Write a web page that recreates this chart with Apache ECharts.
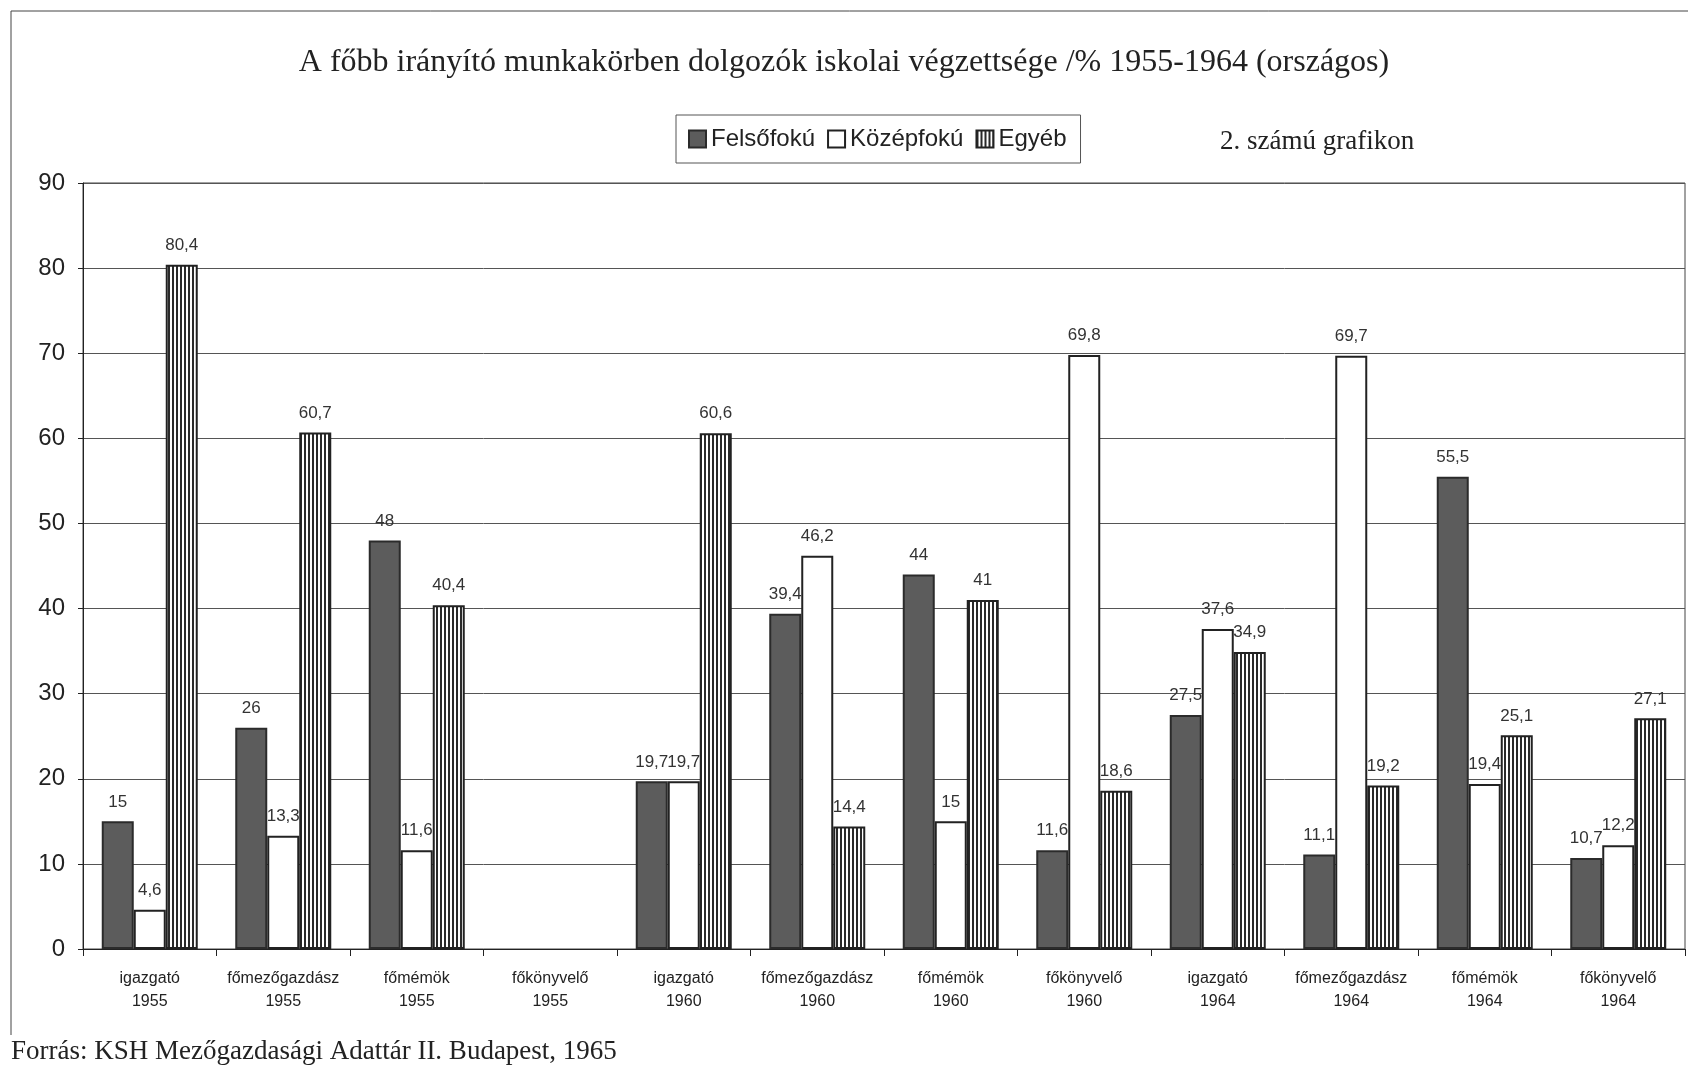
<!DOCTYPE html>
<html>
<head>
<meta charset="utf-8">
<script src="https://cdn.jsdelivr.net/npm/echarts@6/dist/echarts.min.js"></script>
<style>
  html, body { margin: 0; padding: 0; background: #fff; }
  #main { width: 1688px; height: 1068px; }
</style>
</head>
<body>
<div id="main"></div>
<script>
// kategóriák (munkakör + év)
var categories = [
    "igazgató\n1955", "főmezőgazdász\n1955", "főmémök\n1955", "főkönyvelő\n1955",
    "igazgató\n1960", "főmezőgazdász\n1960", "főmémök\n1960", "főkönyvelő\n1960",
    "igazgató\n1964", "főmezőgazdász\n1964", "főmémök\n1964", "főkönyvelő\n1964"
];
var felsofoku = [15, 26, 48, null, 19.7, 39.4, 44, 11.6, 27.5, 11.1, 55.5, 10.7];
var kozepfoku = [4.6, 13.3, 11.6, null, 19.7, 46.2, 15, 69.8, 37.6, 69.7, 19.4, 12.2];
var egyeb = [80.4, 60.7, 40.4, null, 60.6, 14.4, 41, 18.6, 34.9, 19.2, 25.1, 27.1];
var yTicks = { min: 0, max: 90, interval: 10 };

var SANS = '"Liberation Sans", Arial, sans-serif';
var SERIF = '"Liberation Serif", "Times New Roman", serif';

// függőleges csíkos minta az "Egyéb" oszlopokhoz
var stripe = document.createElement('canvas');
stripe.width = 4;
stripe.height = 4;
var ctx = stripe.getContext('2d');
ctx.fillStyle = '#ffffff';
ctx.fillRect(0, 0, 4, 4);
ctx.fillStyle = '#2a2a2a';
ctx.fillRect(0, 0, 2, 4);

var chart = echarts.init(document.getElementById('main'));

var labelOpt = {
    show: true,
    position: 'top',
    distance: 11,
    fontFamily: SANS,
    fontSize: 17,
    color: '#333',
    formatter: function (p) {
        return String(p.value).replace('.', ',');
    }
};

chart.setOption({
    animation: false,
    backgroundColor: '#fff',
    title: {
        text: 'A főbb irányító munkakörben dolgozók iskolai végzettsége /% 1955-1964 (országos)',
        left: 'center',
        top: 42,
        textStyle: { fontFamily: SERIF, fontWeight: 'normal', fontSize: 32, color: '#222' }
    },
    legend: {
        left: 676,
        top: 115,
        orient: 'horizontal',
        itemWidth: 17,
        itemHeight: 17,
        itemGap: 12,
        padding: [12, 14, 12, 12],
        borderColor: '#555',
        borderWidth: 1,
        icon: 'rect',
        textStyle: { fontFamily: SANS, fontSize: 24, color: '#222' },
        data: ['Felsőfokú', 'Középfokú', 'Egyéb']
    },
    grid: {
        left: 83,
        right: 3,
        top: 183,
        bottom: 119,
        show: true,
        borderColor: '#444',
        borderWidth: 1
    },
    xAxis: {
        type: 'category',
        data: categories,
        axisLine: { lineStyle: { color: '#222', width: 1 } },
        axisTick: { show: true, length: 7, lineStyle: { color: '#222' } },
        axisLabel: {
            interval: 0,
            margin: 18,
            fontFamily: SANS,
            fontSize: 16,
            lineHeight: 23,
            color: '#222'
        }
    },
    yAxis: {
        type: 'value',
        min: yTicks.min,
        max: yTicks.max,
        interval: yTicks.interval,
        axisLine: { show: true, lineStyle: { color: '#222' } },
        axisTick: { show: true, length: 5, lineStyle: { color: '#222' } },
        splitLine: { lineStyle: { color: '#555', width: 1 } },
        axisLabel: { fontFamily: SANS, fontSize: 24, color: '#222', margin: 18 }
    },
    series: [
        {
            name: 'Felsőfokú',
            type: 'bar',
            data: felsofoku,
            barWidth: 32,
            barGap: '0%',
            itemStyle: { color: '#5c5c5c', borderColor: '#2b2b2b', borderWidth: 2 },
            label: labelOpt
        },
        {
            name: 'Középfokú',
            type: 'bar',
            data: kozepfoku,
            barWidth: 32,
            barGap: '0%',
            itemStyle: { color: '#ffffff', borderColor: '#222', borderWidth: 2 },
            label: labelOpt
        },
        {
            name: 'Egyéb',
            type: 'bar',
            data: egyeb,
            barWidth: 32,
            barGap: '0%',
            itemStyle: { color: { image: stripe, repeat: 'repeat' }, borderColor: '#222', borderWidth: 2 },
            label: labelOpt
        }
    ],
    graphic: [
        {   // külső keret
            type: 'polyline',
            shape: { points: [[11, 1035], [11, 11], [1688, 11]] },
            style: { stroke: '#444', lineWidth: 1, fill: null }
        },
        {
            type: 'text',
            left: 1220,
            top: 128,
            style: { text: '2. számú grafikon', fontFamily: SERIF, fontSize: 27, fill: '#222' }
        },
        {
            type: 'text',
            left: 11,
            top: 1038,
            style: { text: 'Forrás: KSH Mezőgazdasági Adattár II. Budapest, 1965', fontFamily: SERIF, fontSize: 27, fill: '#222' }
        }
    ]
});
</script>
</body>
</html>
